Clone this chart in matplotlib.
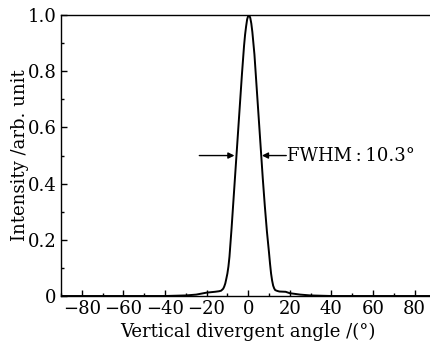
import numpy as np
import matplotlib
matplotlib.use('Agg')
import matplotlib.pyplot as plt
from matplotlib.ticker import MultipleLocator, FuncFormatter

# angle (deg) and normalised intensity
angle = [-90, -40, -30, -25, -20, -16, -14, -13, -12, -11.5, -11, -10.5, -10,
         -9.5, -9, -8.5, -8, -7, -6, -5, -4, -3, -2, -1.5, -1, -0.5, 0, 0.5,
         1, 1.5, 2, 3, 4, 5, 6, 7, 8, 9, 10, 10.5, 11, 11.5, 12, 12.5, 13, 14,
         15, 18, 20, 25, 30, 40, 90]
intensity = [0, 0, 0.002, 0.005, 0.012, 0.015, 0.017, 0.019, 0.026, 0.034,
             0.045, 0.062, 0.08, 0.105, 0.14, 0.19, 0.24, 0.35, 0.46, 0.57,
             0.68, 0.79, 0.89, 0.93, 0.96, 0.985, 0.997, 1.0, 0.99, 0.97,
             0.94, 0.86, 0.75, 0.64, 0.53, 0.42, 0.32, 0.23, 0.155, 0.115,
             0.08, 0.055, 0.037, 0.027, 0.021, 0.018, 0.016, 0.015, 0.01,
             0.005, 0.002, 0, 0]

fwhm_text = 'FWHM\u2009:\u200910.3°'
xlabel = 'Vertical divergent angle /(°)'
ylabel = 'Intensity /arb. unit'

plt.rcParams['font.family'] = 'DejaVu Serif'
plt.rcParams['font.size'] = 13
plt.rcParams['axes.unicode_minus'] = True

my_dpi = 100
fig = plt.figure(figsize=(431 / my_dpi, 343 / my_dpi), dpi=my_dpi)
ax = fig.add_axes([0.1415, 0.137, 0.8687, 0.819])

ax.plot(angle, intensity, color='black', linewidth=1.4)

ax.set_xlim(-90, 90)
ax.set_ylim(0, 1.0)
ax.spines['right'].set_visible(False)
for s in ['left', 'top', 'bottom']:
    ax.spines[s].set_linewidth(1.0)

ax.xaxis.set_major_locator(MultipleLocator(20))
ax.xaxis.set_minor_locator(MultipleLocator(10))
ax.yaxis.set_major_locator(MultipleLocator(0.2))
ax.yaxis.set_minor_locator(MultipleLocator(0.1))
ax.tick_params(which='both', direction='in', top=False, right=False)
ax.tick_params(which='major', length=4, width=1.0, pad=3)
ax.tick_params(which='minor', length=2.5, width=1.0)

ax.xaxis.set_major_formatter(FuncFormatter(
    lambda v, p: '0' if v == 0 else ('%d' % v).replace('-', '\u2212')))
ax.yaxis.set_major_formatter(FuncFormatter(
    lambda v, p: '0' if abs(v) < 1e-9 else '%.1f' % v))

ax.set_xlabel(xlabel, labelpad=3)
ax.set_ylabel(ylabel, labelpad=-1)

# FWHM arrows
ax.annotate('', xy=(-6.6, 0.50), xytext=(-23.5, 0.50),
            arrowprops=dict(arrowstyle='-|>', color='black', lw=1.0,
                            mutation_scale=9, shrinkA=0, shrinkB=0))
ax.annotate('', xy=(6.6, 0.50), xytext=(18.3, 0.50),
            arrowprops=dict(arrowstyle='-|>', color='black', lw=1.0,
                            mutation_scale=9, shrinkA=0, shrinkB=0))
ax.text(18.6, 0.50, fwhm_text, ha='left', va='center')

fig.savefig('out.png', dpi=my_dpi)
plt.close(fig)
